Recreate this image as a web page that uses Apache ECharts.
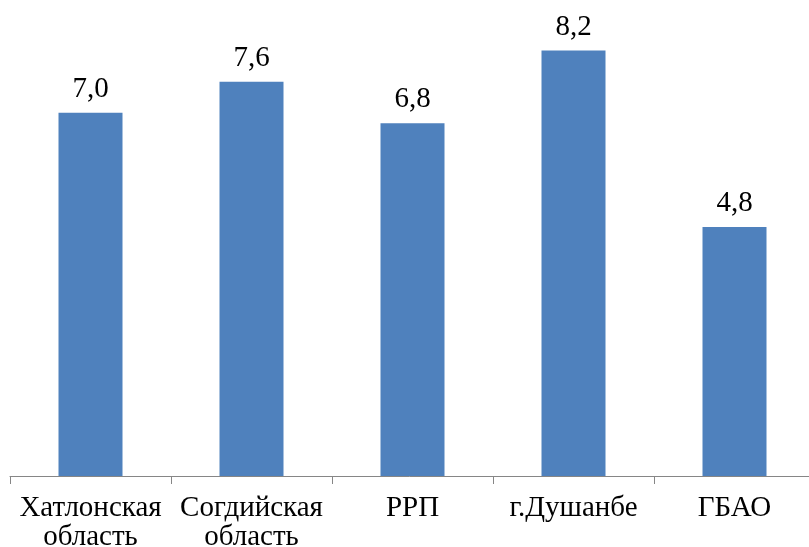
<!DOCTYPE html>
<html>
<head>
<meta charset="utf-8">
<script src="https://cdn.jsdelivr.net/npm/echarts@6/dist/echarts.min.js"></script>
<style>
    html, body { margin: 0; padding: 0; background: #fff; }
    #chart { width: 809px; height: 547px; }
</style>
</head>
<body>
<div id="chart"></div>
<script>
const categories = ['Хатлонская\nобласть', 'Согдийская\nобласть', 'РРП', 'г.Душанбе', 'ГБАО'];
const values = [7.0, 7.6, 6.8, 8.2, 4.8];

const chart = echarts.init(document.getElementById('chart'));
const option = {
    animation: false,
    grid: {
        left: 10,
        width: 805,
        top: 9,
        bottom: 71,
        outerBoundsMode: 'none',
        containLabel: false
    },
    xAxis: {
        type: 'category',
        data: categories,
        axisLine: { lineStyle: { color: '#868686', width: 1 } },
        axisTick: { show: true, length: 8, lineStyle: { color: '#868686' } },
        axisLabel: {
            color: '#000',
            fontFamily: 'Liberation Serif',
            fontSize: 29,
            lineHeight: 29,
            margin: 18,
            interval: 0
        }
    },
    yAxis: {
        type: 'value',
        min: 0,
        max: 9,
        show: false,
        splitLine: { show: false }
    },
    series: [
        {
            type: 'bar',
            data: values,
            barWidth: 64,
            itemStyle: { color: '#4F81BD' },
            label: {
                show: true,
                position: 'top',
                distance: 9,
                color: '#000',
                fontFamily: 'Liberation Serif',
                fontSize: 29,
                formatter: p => p.value.toFixed(1).replace('.', ',')
            }
        }
    ]
};
chart.setOption(option);
</script>
</body>
</html>
